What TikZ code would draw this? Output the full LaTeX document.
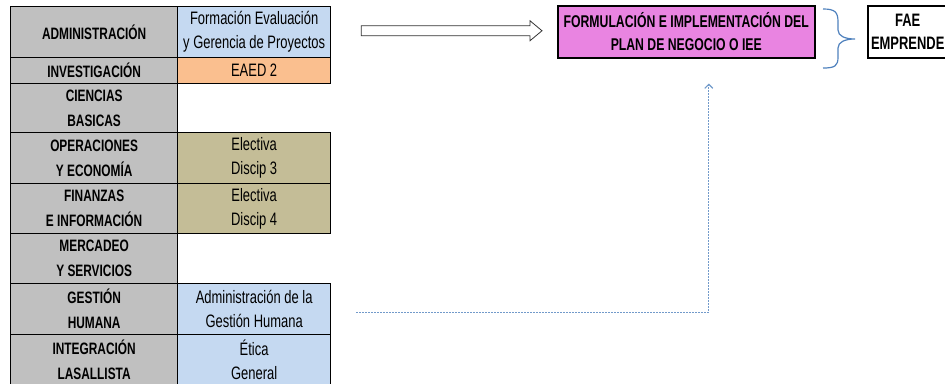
\documentclass[tikz,border=0pt]{standalone}
\usepackage{fontspec}
\setmainfont[FakeStretch=0.72]{Liberation Sans}
\usetikzlibrary{arrows.meta,calc}
\definecolor{cellgray}{RGB}{192,192,192}
\definecolor{cellblue}{RGB}{197,217,241}
\definecolor{cellorange}{RGB}{250,191,143}
\definecolor{cellkhaki}{RGB}{196,189,151}
\definecolor{pinkbox}{RGB}{233,132,225}
\definecolor{linkblue}{RGB}{79,129,189}
\begin{document}
\begin{tikzpicture}[x=1pt,y=-1pt,
  cellbase/.style={draw=black, line width=1.3pt, inner sep=0pt, anchor=north west, align=center},
  lab/.style={cellbase, fill=cellgray, minimum width=167pt, font=\fontsize{16.5}{25}\selectfont\bfseries},
  val/.style={cellbase, minimum width=153pt, font=\fontsize{18}{24}\selectfont},
  blank/.style={cellbase, draw=none, minimum width=153pt},
  hollow/.style={draw=black!80, line width=0.8pt, fill=white},
  link/.style={draw=linkblue!80, line width=1.2pt, dash pattern=on 2pt off 1pt, -{Straight Barb[length=4pt,width=8pt]}},
  bracestyle/.style={draw=linkblue, line width=1.2pt},
  bigbox/.style={draw=black, line width=1.5pt, inner sep=0pt, anchor=north west, align=center}
]
\useasboundingbox (0,0) rectangle (945,383);

% left column
\node[lab, minimum height=51pt] (adm1) at (10,6) {ADMINISTRACIÓN};
\node[lab, minimum height=26pt] (inv1) at (10,57) {INVESTIGACIÓN};
\node[lab, minimum height=49pt] (cb1) at (10,83) {CIENCIAS\\BASICAS};
\node[lab, minimum height=51pt] (op1) at (10,132) {OPERACIONES\\Y ECONOMÍA};
\node[lab, minimum height=50pt] (fin1) at (10,183) {FINANZAS\\E INFORMACIÓN};
\node[lab, minimum height=50pt] (mer1) at (10,233) {MERCADEO\\Y SERVICIOS};
\node[lab, minimum height=51pt] (gh1) at (10,283) {GESTIÓN\\HUMANA};
\node[lab, minimum height=51pt] (il1) at (10,334) {INTEGRACIÓN\\LASALLISTA};

% right column
\node[val, fill=cellblue, minimum height=51pt] (adm2) at (177,6) {Formación Evaluación\\y Gerencia de Proyectos};
\node[val, fill=cellorange, minimum height=26pt] (inv2) at (177,57) {EAED 2};
\node[blank, minimum height=49pt] (cb2) at (177,83) {};
\node[val, fill=cellkhaki, minimum height=51pt] (op2) at (177,132) {Electiva\\Discip 3};
\node[val, fill=cellkhaki, minimum height=50pt] (fin2) at (177,183) {Electiva\\Discip 4};
\node[blank, minimum height=50pt] (mer2) at (177,233) {};
\node[val, fill=cellblue, minimum height=51pt] (gh2) at (177,283) {Administración de la\\Gestión Humana};
\node[val, fill=cellblue, minimum height=51pt] (il2) at (177,334) {Ética\\General};

% right boxes
\node[bigbox, fill=pinkbox, minimum width=257pt, minimum height=52pt, font=\fontsize{17}{23}\selectfont\bfseries] (plan) at (557,5) {FORMULACIÓN E IMPLEMENTACIÓN DEL\\PLAN DE NEGOCIO O IEE};
\node[bigbox, fill=white, minimum width=80pt, minimum height=52pt, font=\fontsize{18}{23}\selectfont\bfseries] (fae) at (867,5) {FAE\\EMPRENDE};

% hollow arrow
\coordinate (ha) at ($(adm2.east)+(30,-1.5)$);
\coordinate (hb) at ($(plan.west)+(-15,-1)$);
\draw[hollow] ($(ha)+(0,-5)$) -- ($(hb)+(-12,-5)$) -- ($(hb)+(-12,-10)$) -- (hb)
  -- ($(hb)+(-12,10)$) -- ($(hb)+(-12,5)$) -- ($(ha)+(0,5)$) -- cycle;

% dotted connector
\coordinate (ds) at ($(gh2.east)+(25,3)$);
\coordinate (de) at ($(plan.south)+(22.5,25)$);
\draw[link] (ds) -| (de);

% brace
\draw[bracestyle] (823,9) .. controls (835,9) and (838,12) .. (838,22) -- (838,30)
  .. controls (838,36) and (845,39) .. (855,39)
  .. controls (845,39) and (838,42) .. (838,48) -- (838,57)
  .. controls (838,66) and (835,68) .. (823,68);
\end{tikzpicture}
\end{document}
